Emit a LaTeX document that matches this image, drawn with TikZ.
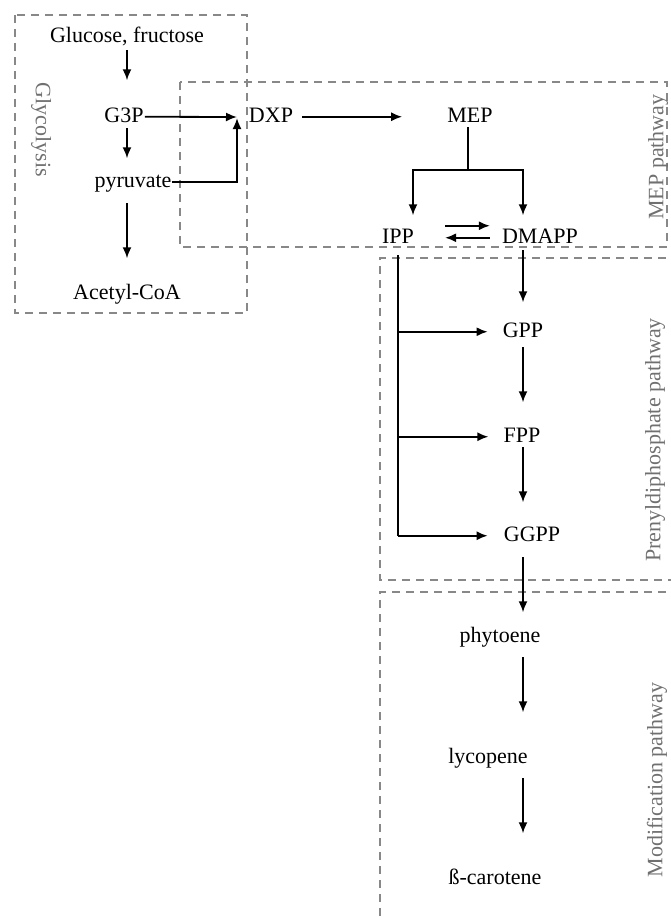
\documentclass[tikz,border=0pt]{standalone}
\usepackage{fontspec}
\setmainfont{Liberation Serif}
\usetikzlibrary{arrows.meta}

\definecolor{boxgray}{RGB}{136,136,136}
\definecolor{labelgray}{RGB}{112,112,112}
\newcommand{\pathwayFontSize}{22}
\newcommand{\pathwayLineWidth}{1.8pt}
\tikzset{
  cp base/.style={font=\fontsize{\pathwayFontSize}{26}\selectfont, inner sep=0pt,
    text height=15.5pt, text depth=5pt, anchor=base},
  cp arrow/.style={line width=\pathwayLineWidth, -{Latex[length=11pt,width=9pt]}},
  cp line/.style={line width=\pathwayLineWidth},
  cp box/.style={draw=boxgray, line width=2.6pt, dash pattern=on 8pt off 6pt},
  cp label/.style={text=labelgray, anchor=center},
}

\begin{document}
\begin{tikzpicture}[
    x=1pt, y=-1pt,
    cp base,
    arrow/.style={cp arrow},
    line/.style={cp line},
    pathway/.style={cp box},
    caption/.style={cp label}
]
\useasboundingbox (0,0) rectangle (670,918);

% pathway frames
\draw [pathway] (15,15) rectangle (247,313);
\draw [pathway] (180,82) rectangle (667,247);
\draw [pathway] (680,258) -- (380,258) -- (380,580) -- (680,580);
\draw [pathway] (680,592) -- (380,592) -- (380,930);

% metabolites
\node (glucose)  at (127,42)  {Glucose, fructose};
\node (gthreep)  at (124,122) {G3P};
\node (pyruvate) at (133,187) {pyruvate};
\node (acetyl)   at (127,299) {Acetyl-CoA};
\node (dxp)      at (271,122) {DXP};
\node (mep)      at (470,122) {MEP};
\node (ipp)      at (398,243) {IPP};
\node (dmapp)    at (540,243) {DMAPP};
\node (gpp)      at (523,337) {GPP};
\node (fpp)      at (522,442) {FPP};
\node (ggpp)     at (532,541) {GGPP};
\node (phytoene) at (500,642) {phytoene};
\node (lycopene) at (488,763) {lycopene};
\node (carotene) at (495,884) {ß-carotene};

% pathway names
\node [caption, rotate=-90] (glycolysis) at (41,130)  {Glycolysis};
\node [caption, rotate=90]  (mepname)    at (658,157) {MEP pathway};
\node [caption, rotate=90]  (prenylname) at (655,440) {Prenyldiphosphate pathway};
\node [caption, rotate=90]  (modname)    at (657,780) {Modification pathway};

\coordinate (col)   at (523,0);
\coordinate (merge) at (237,117);
\coordinate (split) at (468,170);

% glycolysis
\draw [arrow, shorten <=3pt, shorten >=26pt] (glucose.south) -- (glucose.south |- gthreep.north);
\draw [arrow, shorten <=1pt, shorten >=13pt] (glucose |- gthreep.south) -- (glucose |- pyruvate.north);
\draw [arrow, shorten <=11pt, shorten >=25pt] (glucose |- pyruvate.south) -- (glucose |- acetyl.north);
\draw [arrow, shorten <=1pt] (gthreep.east) -- (merge);
\draw [arrow, shorten >=1pt] (pyruvate.east) -| (merge);

% MEP pathway
\draw [arrow, shorten <=9pt, shorten >=45pt] (dxp.east) -- (mep.west);
\draw [line] (split |- mep.south) -- (split);
\draw [arrow, shorten >=12pt] (split) -| ([xshift=15pt]ipp.north);
\draw [arrow, shorten >=12pt] (split) -| (col |- dmapp.north);
\draw [arrow, shorten <=31pt, shorten >=12pt] ([yshift=12pt]ipp.east) -- ([yshift=12pt]ipp.east -| dmapp.west);
\draw [arrow, shorten <=12pt, shorten >=31pt] (dmapp.west) -- (dmapp.west -| ipp.east);

% prenyldiphosphate pathway
\draw [arrow, shorten <=2pt, shorten >=19pt] (col |- dmapp.south) -- (col |- gpp.north);
\draw [arrow, shorten <=5pt, shorten >=24pt] (col |- gpp.south) -- (col |- fpp.north);
\draw [arrow, shorten >=23pt] (col |- fpp.south) -- (col |- ggpp.north);
\draw [line, shorten <=7pt] (ipp.south) -- (ipp.south |- ggpp);
\draw [arrow, shorten >=15pt] (ipp.south |- gpp) -- (gpp.west);
\draw [arrow, shorten >=15pt] (ipp.south |- fpp) -- (fpp.west);
\draw [arrow, shorten >=16pt] (ipp.south |- ggpp) -- (ggpp.west);

% modification pathway
\draw [arrow, shorten <=11pt, shorten >=14pt] (col |- ggpp.south) -- (col |- phytoene.north);
\draw [arrow, shorten <=10pt, shorten >=35pt] (col |- phytoene.south) -- (col |- lycopene.north);
\draw [arrow, shorten <=10pt, shorten >=35pt] (col |- lycopene.south) -- (col |- carotene.north);
\end{tikzpicture}
\end{document}
